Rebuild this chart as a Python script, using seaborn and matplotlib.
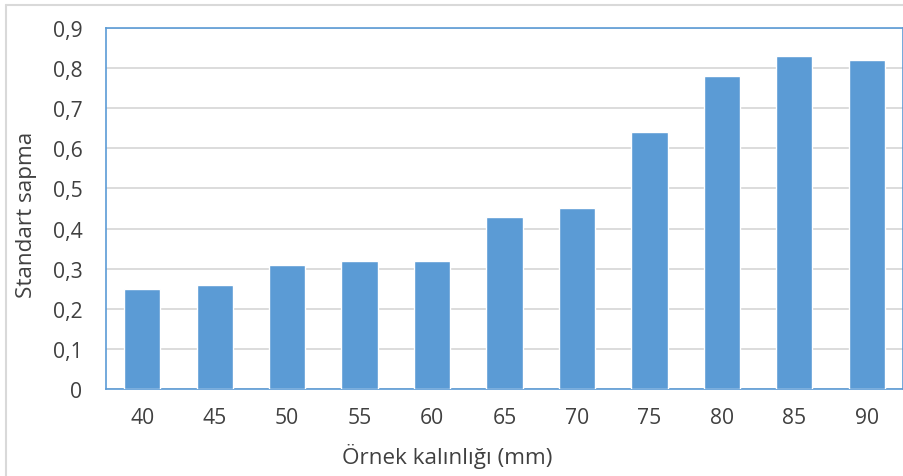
import matplotlib
matplotlib.use("Agg")
import matplotlib.pyplot as plt
from matplotlib.lines import Line2D
from matplotlib.ticker import FuncFormatter, MultipleLocator
import seaborn as sns
import pandas as pd

thickness = ["40", "45", "50", "55", "60", "65", "70", "75", "80", "85", "90"]
std_dev = [0.25, 0.26, 0.31, 0.32, 0.32, 0.43, 0.45, 0.64, 0.78, 0.83, 0.82]

sns.set_theme(style="white")
plt.rcParams["font.family"] = ["Open Sans", "DejaVu Sans"]

df = pd.DataFrame({"kalinlik": thickness, "sapma": std_dev})

W, H = 904, 477
fig = plt.figure(figsize=(W / 100, H / 100), dpi=100)
ax = fig.add_axes([106 / W, 1 - 390 / H, 797 / W, 361 / H])

sns.barplot(data=df, x="kalinlik", y="sapma", color="#5b9bd5", width=0.5,
            saturation=1, ax=ax, zorder=3)

ax.set_ylim(0, 0.9)
ax.set_xlim(-0.5, len(thickness) - 0.5)
ax.yaxis.set_major_locator(MultipleLocator(0.1))
ax.yaxis.set_major_formatter(
    FuncFormatter(lambda v, _: "0" if abs(v) < 1e-9 else f"{v:.1f}".replace(".", ",")))
ax.grid(axis="y", color="#d9d9d9", linewidth=1.3, zorder=0)
ax.set_axisbelow(True)

for s in ax.spines.values():
    s.set_color("#5b9bd5")
    s.set_linewidth(1.2)

txt = "#404040"
ax.tick_params(axis="y", length=0, pad=17, labelsize=15.2, labelcolor=txt)
ax.tick_params(axis="x", length=0, pad=13, labelsize=15.2, labelcolor=txt)
ax.set_ylabel("Standart sapma", fontsize=16.2, color=txt)
ax.set_xlabel("Örnek kalınlığı (mm)", fontsize=16.2, color=txt)
ax.yaxis.set_label_coords(27 / W, 1 - 215 / H, transform=fig.transFigure)
ax.xaxis.set_label_coords(447 / W, 1 - 457 / H, transform=fig.transFigure)
ax.yaxis.label.set_va("center")
ax.xaxis.label.set_va("center")

# outer chart frame (left and top edges)
fig.add_artist(Line2D([6.5 / W, 6.5 / W], [0, 1 - 6 / H], transform=fig.transFigure,
                      color="#d9d9d9", linewidth=1.5))
fig.add_artist(Line2D([6.5 / W, 1], [1 - 6 / H, 1 - 6 / H], transform=fig.transFigure,
                      color="#d9d9d9", linewidth=1.5))

fig.savefig("out.png", dpi=100)
